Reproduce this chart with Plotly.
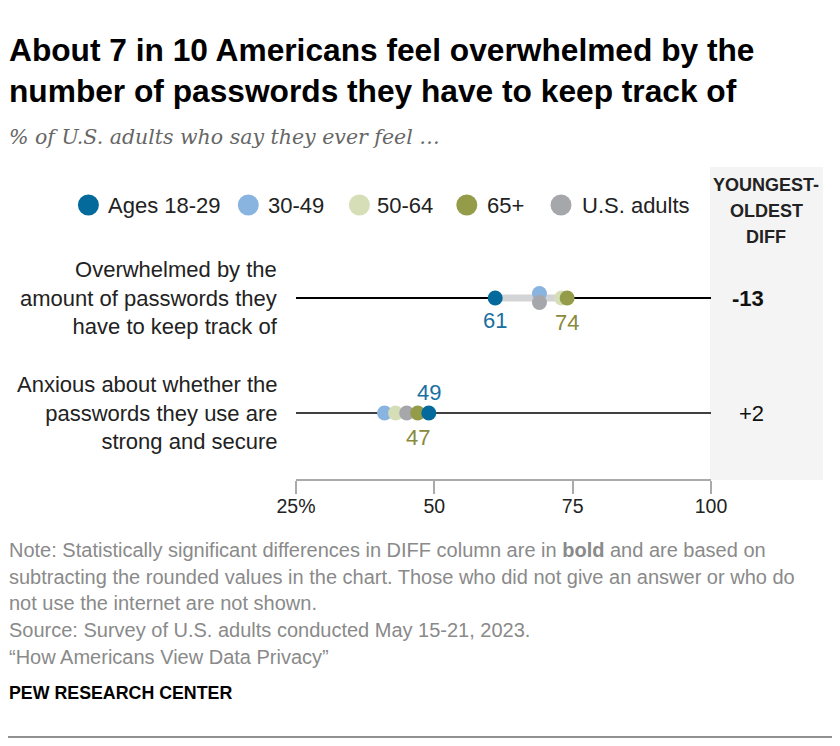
import plotly.graph_objects as go

# ---------------- data ----------------
categories = [
    "Overwhelmed by the<br>amount of passwords they<br>have to keep track of",
    "Anxious about whether the<br>passwords they use are<br>strong and secure",
]
groups = ["Ages 18-29", "30-49", "50-64", "65+", "U.S. adults"]
ages_18_29 = [61, 49]
ages_30_49 = [69, 41]
ages_50_64 = [73, 43]
ages_65_plus = [74, 47]
us_adults = [69, 45]
diff_header = ["YOUNGEST-", "OLDEST", "DIFF"]
diff_labels = ["-13", "+2"]
diff_bold = [True, False]
tick_vals = [25, 50, 75, 100]
tick_text = ["25%", "50", "75", "100"]
note_lines = [
    "Note: Statistically significant differences in DIFF column are in <b>bold</b> and are based on",
    "subtracting the rounded values in the chart. Those who did not give an answer or who do",
    "not use the internet are not shown.",
    "Source: Survey of U.S. adults conducted May 15-21, 2023.",
    "“How Americans View Data Privacy”",
]

colors = {
    "Ages 18-29": "#046a9c",
    "30-49": "#8ab4e0",
    "50-64": "#d6deb7",
    "65+": "#949c4a",
    "U.S. adults": "#a6a7ab",
}
values = {
    "Ages 18-29": ages_18_29,
    "30-49": ages_30_49,
    "50-64": ages_50_64,
    "65+": ages_65_plus,
    "U.S. adults": us_adults,
}

W, H = 840, 746
OFF = 8  # page body margin offset
ROW0_PX, ROW_STEP = 298, 115
X0_PX, X1_PX = 296, 711

BODY = "Liberation Sans, Arial, sans-serif"


def px(xp):
    return (xp - OFF) / W


def py(yp):
    return 1 - (yp - OFF) / H


fig = go.Figure()
rows = list(range(len(categories)))

# row guide lines
for r in rows:
    fig.add_trace(go.Scatter(
        x=[tick_vals[0], tick_vals[-1]], y=[r, r], mode="lines",
        line=dict(color="#000000", width=2 if r == 0 else 1.3),
        hoverinfo="skip", showlegend=False))

# range bars (min to max of all groups)
for r in rows:
    vals = [values[g][r] for g in groups]
    fig.add_trace(go.Scatter(
        x=[min(vals), max(vals)], y=[r, r], mode="lines",
        line=dict(color="#d3d4d6", width=7),
        hoverinfo="skip", showlegend=False))

# nudge dots that share the same value (30-49 up, U.S. adults down)
nudge = 4.5 / ROW_STEP


def y_for(g, r):
    v = values[g][r]
    same = [o for o in groups if o != g and values[o][r] == v]
    if same:
        return r - nudge if g == "30-49" else r + nudge
    return r


draw_order = ["30-49", "50-64", "U.S. adults", "65+", "Ages 18-29"]
for g in draw_order:
    fig.add_trace(go.Scatter(
        x=values[g], y=[y_for(g, r) for r in rows], mode="markers",
        marker=dict(color=colors[g], size=15, line=dict(width=0)),
        name=g, showlegend=False))

# value labels for youngest and oldest
label_color = {"Ages 18-29": "#1a6fa0", "65+": "#898a3c"}
for r in rows:
    y_val = ages_18_29[r]
    o_val = ages_65_plus[r]
    close = abs(y_val - o_val) < 5
    fig.add_annotation(x=y_val, y=r, xref="x", yref="y", text=str(y_val),
                       showarrow=False, yshift=21 if close else -22,
                       font=dict(family=BODY, size=22, color=label_color["Ages 18-29"]))
    fig.add_annotation(x=o_val, y=r, xref="x", yref="y", text=str(o_val),
                       showarrow=False, yshift=-24,
                       font=dict(family=BODY, size=22, color=label_color["65+"]))

# category labels
for r, c in enumerate(categories):
    fig.add_annotation(x=px(280), y=r, xref="paper", yref="y", text=c,
                       showarrow=False, xanchor="right", yanchor="middle", align="right",
                       font=dict(family=BODY, size=22, color="#222222"))

# diff column
fig.add_shape(type="rect", xref="paper", yref="paper",
              x0=px(710), x1=px(823), y0=py(480), y1=py(167),
              fillcolor="#f4f4f4", line=dict(width=0), layer="below")
for i, h in enumerate(diff_header):
    fig.add_annotation(x=px(766), y=py(185 + 26 * i), xref="paper", yref="paper",
                       text=f"<b>{h}</b>", showarrow=False,
                       xanchor="center", yanchor="middle",
                       font=dict(family=BODY, size=18, color="#222222"))
for r, (d, b) in enumerate(zip(diff_labels, diff_bold)):
    fig.add_annotation(x=px(766), y=r, xref="paper", yref="y",
                       text=f"<b>{d}</b>" if b else d, showarrow=False,
                       font=dict(family=BODY, size=22, color="#111111"))

# legend
legend_x = [88.4, 248.3, 359.4, 466.8, 561]
legend_text_x = [106, 266, 375, 485, 580]
for g, cx, tx in zip(groups, legend_x, legend_text_x):
    cy = 205
    rad = 10.5
    fig.add_shape(type="circle", xref="paper", yref="paper",
                  x0=px(cx - rad), x1=px(cx + rad),
                  y0=py(cy + rad), y1=py(cy - rad),
                  fillcolor=colors[g], line=dict(width=0))
    fig.add_annotation(x=px(tx), y=py(cy), xref="paper", yref="paper",
                       text=g, showarrow=False, xanchor="left", yanchor="middle",
                       font=dict(family=BODY, size=22, color="#222222"))

# title & subtitle
fig.add_annotation(x=px(7), y=py(70), xref="paper", yref="paper",
                   text="<b>About 7 in 10 Americans feel overwhelmed by the<br>number of passwords they have to keep track of</b>",
                   showarrow=False, xanchor="left", yanchor="middle", align="left",
                   font=dict(family=BODY, size=31.7, color="#000000"))
fig.add_annotation(x=px(7), y=py(137), xref="paper", yref="paper",
                   text="<i>% of U.S. adults who say they ever feel …</i>",
                   showarrow=False, xanchor="left", yanchor="middle",
                   font=dict(family="DejaVu Serif, Liberation Serif, serif", size=20.5, color="#666666"))

# notes
for i, line in enumerate(note_lines):
    fig.add_annotation(x=px(7), y=py(550 + 26.7 * i), xref="paper", yref="paper", text=line,
                       showarrow=False, xanchor="left", yanchor="middle", align="left",
                       font=dict(family=BODY, size=20, color="#8a8a8a"))
fig.add_annotation(x=px(7), y=py(693), xref="paper", yref="paper",
                   text="<b>PEW RESEARCH CENTER</b>", showarrow=False,
                   xanchor="left", yanchor="middle",
                   font=dict(family=BODY, size=17.8, color="#000000"))
fig.add_shape(type="line", xref="paper", yref="paper",
              x0=px(7), x1=px(832), y0=py(737), y1=py(737),
              line=dict(color="#222222", width=1))

y_top = -(ROW0_PX - OFF) / ROW_STEP
y_bot = (H - (ROW0_PX - OFF)) / ROW_STEP

fig.update_layout(
    template="none",
    width=W, height=H, autosize=False,
    margin=dict(l=0, r=0, t=0, b=0, pad=0),
    paper_bgcolor="white", plot_bgcolor="rgba(0,0,0,0)",
    showlegend=False,
    xaxis=dict(domain=[px(X0_PX), px(X1_PX)], range=[25, 100],
               tickvals=tick_vals, ticktext=tick_text,
               showgrid=False, zeroline=False, automargin=False,
               showline=True, linecolor="#aaaaaa", linewidth=1.5,
               ticks="outside", ticklen=13, tickcolor="#aaaaaa", tickwidth=1.5,
               tickfont=dict(family=BODY, size=19.5, color="#222222"),
               ticklabelstandoff=-4,
               anchor="free", position=py(480), side="bottom"),
    yaxis=dict(domain=[0, 1], range=[y_bot, y_top], visible=False, automargin=False),
)

fig.write_html("out.html")
